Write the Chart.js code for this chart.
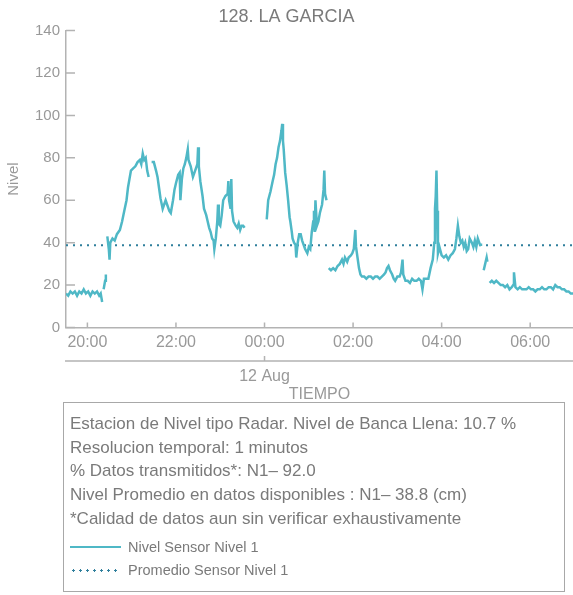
<!DOCTYPE html>
<html>
<head>
<meta charset="utf-8">
<script src="https://cdn.jsdelivr.net/npm/chart.js@4.4.1/dist/chart.umd.min.js"></script>
<style>
  body { margin: 0; background: #fff; font-family: "Liberation Sans", Arial, sans-serif; }
  #wrap { position: absolute; left: 0; top: 0; width: 573px; height: 404px; }
  #info { position: absolute; left: 63px; top: 402px; width: 500px; height: 188px; border: 1px solid #a8a8a8; color: #7a7a7a; }
  #info .l { position: absolute; left: 6px; font-size: 17px; line-height: 20px; white-space: nowrap; }
  #info .leg { position: absolute; left: 64px; font-size: 14.5px; line-height: 16px; white-space: nowrap; }
  #info .sw { position: absolute; left: 6px; }
</style>
</head>
<body>
<div id="wrap"><canvas id="nivelChart"></canvas></div>
<div id="info">
  <div class="l" style="top:11px">Estacion de Nivel tipo Radar. Nivel de Banca Llena: 10.7 %</div>
  <div class="l" style="top:35px">Resolucion temporal: 1 minutos</div>
  <div class="l" style="top:58px">% Datos transmitidos*: N1&#8211; 92.0</div>
  <div class="l" style="top:82px">Nivel Promedio en datos disponibles : N1&#8211; 38.8 (cm)</div>
  <div class="l" style="top:106px">*Calidad de datos aun sin verificar exhaustivamente</div>
  <div class="sw" style="top:143px; width:51px; height:2px; background:#4fb8c6"></div>
  <div class="leg" style="top:136px">Nivel Sensor Nivel 1</div>
  <div class="sw" style="top:166px; width:50px; height:3px; background: radial-gradient(circle, #2f7f9c 1px, transparent 1.3px) 0 0 / 7px 3px repeat-x"></div>
  <div class="leg" style="top:159px">Promedio Sensor Nivel 1</div>
</div>
<script>
// Datos (hora local, nivel); null = sin dato
const horas = [
  '19:31','19:34','19:37','19:40','19:43','19:46','19:49','19:52','19:55','19:58',
  '20:01','20:04','20:07','20:10','20:13','20:16','20:18','20:20','20:21',
  '20:22','20:24','20:25','20:26',
  '20:27','20:29','20:30','20:31','20:34','20:37','20:40','20:44','20:47','20:50',
  '20:53','20:55','20:57','20:59','21:02','21:05','21:08','21:11','21:13','21:15',
  '21:17','21:19','21:21','21:23','21:24',
  '21:27','21:30','21:33','21:35','21:37','21:39','21:42','21:44','21:46','21:48',
  '21:51','21:53','21:56','21:58','22:00','22:03','22:05','22:06','22:08','22:10',
  '22:12','22:14','22:16','22:17','22:20','22:23','22:26','22:29','22:30','22:31',
  '22:33','22:36','22:38','22:41','22:43','22:45','22:47','22:49','22:51','22:52',
  '22:54','22:56','22:57','22:58','23:00','23:02','23:04','23:07','23:10','23:11',
  '23:12','23:14','23:15','23:16','23:18','23:21','23:23','23:25','23:27','23:29',
  '23:31','23:33','23:34',
  '00:03','00:05','00:08','00:11','00:13','00:15','00:17','00:19','00:21','00:23',
  '00:24','00:25','00:26','00:28','00:30','00:32','00:34','00:35','00:37','00:38',
  '00:40','00:42','00:43','00:45','00:47','00:49','00:51','00:53','00:55','00:58',
  '01:00','01:02','01:04','01:06','01:07','01:08','01:09','01:11','01:13','01:15',
  '01:18','01:20','01:21','01:22','01:24','01:25',
  '01:27','01:30','01:33','01:36','01:39','01:42','01:45','01:47','01:49','01:52',
  '01:54','01:57','01:59','02:01','02:03','02:04','02:06','02:08','02:10','02:12',
  '02:15','02:18','02:21','02:24','02:27','02:30','02:33','02:36','02:39','02:42',
  '02:44','02:46','02:48','02:50','02:53','02:55','02:57','03:00','03:03','03:05',
  '03:07','03:08','03:11','03:14','03:17','03:20','03:23','03:26','03:29','03:32',
  '03:34','03:36','03:39','03:42','03:45','03:48','03:50','03:51','03:52','03:53',
  '03:54','03:55','03:57','04:00','04:03','04:06','04:09','04:12','04:15','04:18',
  '04:20','04:22','04:24','04:26','04:28','04:30','04:32','04:34','04:36','04:38',
  '04:41','04:43','04:45','04:47','04:49','04:52','04:55','04:56',
  '04:57','04:59','05:01','05:02','05:03',
  '05:05','05:08','05:11','05:14','05:17','05:20','05:23','05:26','05:29','05:32',
  '05:35','05:37','05:38','05:40','05:43','05:46','05:49','05:52','05:55','05:58',
  '06:01','06:04','06:07','06:10','06:13','06:16','06:19','06:22','06:25','06:28',
  '06:31','06:34','06:37','06:40','06:43','06:46','06:49','06:52','06:55','06:58'
];
const nivel = [
  16, 15, 17, 16, 17, 15, 17, 16, 18, 16,
  17, 15, 17, 16, 17, 15, 16, 12, null,
  18, 22, 25, null,
  43, 37, 32, 40, 42, 41, 44, 46, 50, 55,
  60, 66, 70, 74, 75, 76, 78, 79, 77, 82,
  79, 80, 74, 71, null,
  78, 78, 74, 71, 66, 61, 56, 58, 60, 58,
  55, 54, 60, 65, 68, 72, 73, 60, 70, 75,
  77, 80, 84, 79, 76, 71, 74, 77, 85, 76,
  69, 62, 56, 53, 50, 47, 45, 42, 41, 37,
  42, 50, 58, 49, 48, 53, 60, 62, 63, 69,
  60, 56, 70, 55, 50, 48, 47, 49, 46, 48,
  48, 47, null,
  51, 60, 64, 69, 72, 77, 80, 85, 88, 93,
  96, 88, 84, 73, 67, 60, 52, 50, 45, 42,
  40, 39, 33, 40, 44, 44, 41, 39, 37, 35,
  38, 37, 45, 50, 55, 45, 60, 48, 50, 54,
  58, 65, 74, 63, 60, null,
  28, 27, 28, 27, 29, 30, 32, 30, 33, 31,
  33, 34, 35, 37, 46, 38, 33, 28, 25, 24,
  24, 23, 24, 24, 23, 24, 24, 23, 24, 25,
  26, 28, 29, 27, 25, 23, 22, 24, 24, 26,
  32, 25, 22, 22, 21, 23, 22, 22, 23, 22,
  18, 23, 23, 23, 28, 32, 40, 56, 62, 74,
  55, 35, 38, 34, 33, 34, 32, 34, 35, 37,
  42, 48, 43, 40, 41, 38, 40, 36, 37, 42,
  40, 38, 41, 38, 42, 39, 39, null,
  27, 30, 33, 31, null,
  21, 22, 21, 22, 21, 20, 20, 19, 20, 18,
  19, 20, 26, 19, 18, 19, 18, 18, 18, 19,
  18, 18, 17, 18, 18, 19, 18, 18, 19, 19,
  18, 20, 19, 19, 18, 18, 17, 17, 16, 16
];
const promedio = 38.8;
const horaMin = '19:31';
const horaMax = '06:58';
const ticksHora = ['20:00', '22:00', '00:00', '02:00', '04:00', '06:00'];
const fechaHora = '00:00';
const fechaEtiqueta = '12 Aug';

// minutos desde la medianoche del 11 Aug
function aMinutos(h) {
  const [hh, mm] = h.split(':').map(Number);
  return hh * 60 + mm + (hh < 12 ? 1440 : 0);
}

const puntos = horas.map((h, i) => ({ x: aMinutos(h), y: nivel[i] }));
const lineaProm = [{ x: aMinutos(horaMin), y: promedio }, { x: aMinutos(horaMax), y: promedio }];

const gris = '#b3b3b3';
const textoGris = '#999';
const fuente = '"Liberation Sans", Arial, sans-serif';

// marcas hacia adentro, segunda linea del eje y la fecha
const extras = {
  id: 'extras',
  afterDraw(chart) {
    const { ctx, chartArea, scales: { x, y } } = chart;
    ctx.save();
    ctx.strokeStyle = gris;
    ctx.lineWidth = 1.5;
    ctx.beginPath();
    y.ticks.forEach(t => {
      const py = y.getPixelForValue(t.value);
      ctx.moveTo(chartArea.left, py);
      ctx.lineTo(chartArea.left + 9, py);
    });
    x.ticks.forEach(t => {
      const px = x.getPixelForValue(t.value);
      ctx.moveTo(px, chartArea.bottom);
      ctx.lineTo(px, chartArea.bottom - 5);
    });
    const yl = chartArea.bottom + 33.5;
    const pd = x.getPixelForValue(aMinutos(fechaHora));
    ctx.moveTo(chartArea.left - 1, yl);
    ctx.lineTo(chartArea.right, yl);
    ctx.moveTo(pd, yl);
    ctx.lineTo(pd, yl - 5);
    ctx.stroke();
    ctx.fillStyle = textoGris;
    ctx.font = '16px ' + fuente;
    ctx.textAlign = 'center';
    ctx.textBaseline = 'middle';
    ctx.fillText(fechaEtiqueta, pd, yl + 16);
    ctx.restore();
  }
};

new Chart(document.getElementById('nivelChart'), {
  type: 'line',
  data: {
    datasets: [
      {
        label: 'Nivel Sensor Nivel 1',
        data: puntos,
        borderColor: '#4fb8c6',
        borderWidth: 2.5,
        pointRadius: 0,
        spanGaps: false,
        tension: 0
      },
      {
        label: 'Promedio Sensor Nivel 1',
        data: lineaProm,
        borderColor: '#2f7f9c',
        borderWidth: 2,
        borderDash: [2, 5],
        pointRadius: 0
      }
    ]
  },
  options: {
    responsive: true,
    maintainAspectRatio: false,
    animation: false,
    layout: { padding: 0 },
    plugins: {
      legend: { display: false },
      tooltip: { enabled: false },
      title: {
        display: true,
        text: '128. LA GARCIA',
        color: '#7a7a7a',
        font: { family: fuente, size: 18, weight: 'normal' },
        padding: { top: 6, bottom: 3 }
      }
    },
    scales: {
      x: {
        type: 'linear',
        min: aMinutos(horaMin),
        max: aMinutos(horaMax),
        afterBuildTicks: axis => { axis.ticks = ticksHora.map(h => ({ value: aMinutos(h) })); },
        afterFit: scale => { scale.height = 76.5; },
        grid: { display: true, drawOnChartArea: false, drawTicks: false },
        border: { display: true, color: gris, width: 1.5 },
        ticks: {
          autoSkip: false,
          maxRotation: 0,
          padding: 5,
          color: textoGris,
          font: { family: fuente, size: 16 },
          callback: v => ticksHora.find(h => aMinutos(h) === v) || ''
        },
        title: {
          display: true,
          text: 'TIEMPO',
          color: textoGris,
          font: { family: fuente, size: 16 },
          padding: { top: 0, bottom: 0 }
        }
      },
      y: {
        min: 0,
        max: 140,
        afterFit: scale => { scale.width = 66; },
        grid: { display: true, drawOnChartArea: false, drawTicks: false },
        border: { display: true, color: gris, width: 1.5 },
        ticks: {
          stepSize: 20,
          padding: 6,
          color: textoGris,
          font: { family: fuente, size: 15 }
        },
        title: {
          display: true,
          text: 'Nivel',
          color: textoGris,
          font: { family: fuente, size: 15 },
          padding: { top: 5, bottom: 0 }
        }
      }
    }
  },
  plugins: [extras]
});
</script>
</body>
</html>
